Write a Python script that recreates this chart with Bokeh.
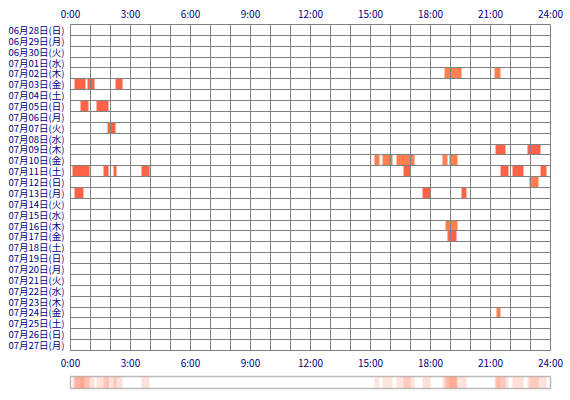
from bokeh.plotting import figure
from bokeh.layouts import column
from bokeh.models import FixedTicker, Range1d, LinearAxis, ColumnDataSource
from bokeh.embed import file_html
from bokeh.resources import INLINE

# ---- data ----
days = ["06月28日(日)", "06月29日(月)", "06月30日(火)", "07月01日(水)", "07月02日(木)",
        "07月03日(金)", "07月04日(土)", "07月05日(日)", "07月06日(月)", "07月07日(火)",
        "07月08日(水)", "07月09日(木)", "07月10日(金)", "07月11日(土)", "07月12日(日)",
        "07月13日(月)", "07月14日(火)", "07月15日(水)", "07月16日(木)", "07月17日(金)",
        "07月18日(土)", "07月19日(日)", "07月20日(月)", "07月21日(火)", "07月22日(水)",
        "07月23日(木)", "07月24日(金)", "07月25日(土)", "07月26日(日)", "07月27日(月)"]

hour_ticks = [0, 3, 6, 9, 12, 15, 18, 21, 24]
hour_labels = ["0:00", "3:00", "6:00", "9:00", "12:00", "15:00", "18:00", "21:00", "24:00"]

# activity blocks: day, start hour, end hour, kind
block_day = ["07月02日(木)", "07月02日(木)",
             "07月03日(金)", "07月03日(金)", "07月03日(金)",
             "07月05日(日)", "07月05日(日)",
             "07月07日(火)",
             "07月09日(木)", "07月09日(木)",
             "07月10日(金)", "07月10日(金)", "07月10日(金)", "07月10日(金)", "07月10日(金)",
             "07月11日(土)", "07月11日(土)", "07月11日(土)", "07月11日(土)",
             "07月11日(土)", "07月11日(土)", "07月11日(土)", "07月11日(土)",
             "07月12日(日)",
             "07月13日(月)", "07月13日(月)", "07月13日(月)",
             "07月16日(木)",
             "07月17日(金)",
             "07月24日(金)"]
block_start = [18.70, 21.20,
               0.20, 0.85, 2.25,
               0.50, 1.30,
               1.85,
               21.25, 22.85,
               15.20, 15.60, 16.30, 18.60, 18.95,
               0.10, 1.65, 2.15, 3.55,
               16.65, 21.50, 22.10, 23.50,
               22.95,
               0.20, 17.60, 19.55,
               18.75,
               18.85,
               21.30]
block_end = [19.55, 21.50,
             0.75, 1.20, 2.60,
             0.90, 1.90,
             2.25,
             21.75, 23.50,
             15.45, 16.10, 17.20, 18.85, 19.35,
             0.95, 1.90, 2.30, 3.95,
             17.00, 21.90, 22.65, 23.80,
             23.40,
             0.65, 18.00, 19.80,
             19.35,
             19.30,
             21.50]
block_kind = ["b", "b",
              "a", "a", "a",
              "a", "a",
              "a",
              "a", "a",
              "b", "b", "b", "b", "b",
              "a", "a", "a", "a",
              "a", "a", "a", "a",
              "b",
              "a", "a", "a",
              "b",
              "a",
              "b"]
kind_colors = {"a": "#FF6347", "b": "#FF7F50"}

# ---- derived ----
row_top = [days.index(d) for d in block_day]
row_bottom = [r + 1 for r in row_top]
colors = [kind_colors[k] for k in block_kind]
src = ColumnDataSource(dict(left=block_start, right=block_end, top=row_top,
                            bottom=row_bottom, color=colors))

FONT = "Noto Sans CJK JP"
TXT = "#000080"
GRID = "#808080"

p = figure(width=570, height=372, x_range=Range1d(0, 24), y_range=Range1d(len(days), 0),
           output_backend="svg", toolbar_location=None, x_axis_location="above",
           min_border_left=70, min_border_right=20, min_border_top=24, min_border_bottom=18)
p.background_fill_color = "white"
p.border_fill_color = "white"
p.outline_line_color = GRID
p.outline_line_width = 1

p.quad(left="left", right="right", top="top", bottom="bottom", source=src,
       fill_color="color", line_color=None)

bottom_axis = LinearAxis()
p.add_layout(bottom_axis, "below")

for ax in p.xaxis:
    ax.ticker = FixedTicker(ticks=hour_ticks)
    ax.major_label_overrides = {t: l for t, l in zip(hour_ticks, hour_labels)}
    ax.axis_line_color = None
    ax.major_tick_line_color = None
    ax.minor_tick_line_color = None
    ax.major_tick_out = 0
    ax.major_label_standoff = 4
    ax.major_label_text_font = FONT
    ax.major_label_text_font_size = "10px"
    ax.major_label_text_color = TXT

ya = p.yaxis[0]
centers = [i + 0.5 for i in range(len(days))]
ya.ticker = FixedTicker(ticks=centers)
ya.major_label_overrides = {c: d for c, d in zip(centers, days)}
ya.axis_line_color = None
ya.major_tick_line_color = None
ya.minor_tick_line_color = None
ya.major_tick_out = 0
ya.major_label_standoff = 6
ya.major_label_text_font = FONT
ya.major_label_text_font_size = "9.5px"
ya.major_label_text_color = TXT

p.xgrid.ticker = FixedTicker(ticks=list(range(25)))
p.ygrid.ticker = FixedTicker(ticks=list(range(len(days) + 1)))
for g in (p.xgrid[0], p.ygrid[0]):
    g.grid_line_color = GRID
    g.grid_line_width = 1
    g.grid_line_alpha = 1
    g.level = "overlay"

# summary strip
src2 = ColumnDataSource(dict(left=block_start, right=block_end, color=colors))
p2 = figure(width=570, height=28, x_range=p.x_range, y_range=Range1d(0, 1),
            output_backend="svg", toolbar_location=None,
            x_axis_type=None, y_axis_type=None,
            min_border_left=70, min_border_right=20, min_border_top=4, min_border_bottom=12)
p2.grid.visible = False
p2.outline_line_color = "#BBBBBB"
p2.outline_line_width = 1.5
p2.border_fill_color = "white"
p2.quad(left="left", right="right", top=1, bottom=0, source=src2,
        fill_color="color", fill_alpha=0.2, line_color=None)

layout = column(p, p2, spacing=0)
open("out.html", "w").write(file_html(layout, INLINE))
